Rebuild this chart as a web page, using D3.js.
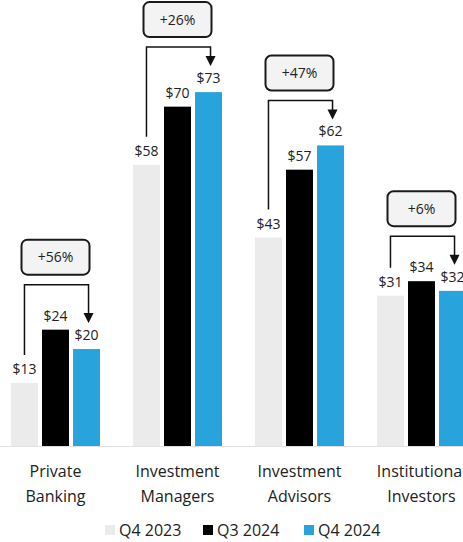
<!DOCTYPE html>
<html>
<head>
<meta charset="utf-8">
<script src="https://cdnjs.cloudflare.com/ajax/libs/d3/7.8.5/d3.min.js"></script>
<style>
  body { margin: 0; background: #fff; }
  svg { display: block; font-family: 'Open Sans', 'Noto Sans', sans-serif; }
</style>
</head>
<body>
<div id="chart"></div>
<script>
// data
var categories = [['Private', 'Banking'], ['Investment', 'Managers'], ['Investment', 'Advisors'], ['Institutional', 'Investors']]
var series = ['Q4 2023', 'Q3 2024', 'Q4 2024']
var q4_2023 = [13, 58, 43, 31]
var q3_2024 = [24, 70, 57, 34]
var q4_2024 = [20, 73, 62, 32]
var growth = ['+56%', '+26%', '+47%', '+6%']

var colors = ['#ebebeb', '#000000', '#29a3dc']

var width = 463
var height = 542
var baseline = 446

var svg = d3.select('#chart')
  .append('svg')
  .attr('width', width)
  .attr('height', height)

var keys = categories.map(d => d.join(' '))
var rows = keys.map((k, i) => ({ key: k, lines: categories[i], values: [q4_2023[i], q3_2024[i], q4_2024[i]] }))

var x0 = d3.scaleBand()
  .domain(keys)
  .range([-5.5, 482.5])
  .paddingInner(0.27)
  .paddingOuter(0.135)

var x1 = d3.scaleBand()
  .domain(series)
  .range([0, x0.bandwidth()])
  .paddingInner(0.13)

var y = d3.scaleLinear().domain([0, 92]).range([baseline, 0])

var color = d3.scaleOrdinal().domain(series).range(colors)

// baseline
svg.append('line')
  .attr('x1', 0).attr('x2', width)
  .attr('y1', baseline + 0.5).attr('y2', baseline + 0.5)
  .attr('stroke', '#e2e2e2')
  .attr('stroke-width', 1)

var groups = svg.selectAll('.group')
  .data(rows)
  .enter()
  .append('g')
  .attr('class', 'group')
  .attr('transform', d => `translate(${x0(d.key)},0)`)

groups.selectAll('rect')
  .data(d => d.values.map((v, i) => ({ s: series[i], v: v })))
  .enter()
  .append('rect')
  .attr('x', d => x1(d.s))
  .attr('y', d => y(d.v))
  .attr('width', x1.bandwidth())
  .attr('height', d => baseline - y(d.v))
  .attr('fill', d => color(d.s))

groups.selectAll('.val')
  .data(d => d.values.map((v, i) => ({ s: series[i], v: v })))
  .enter()
  .append('text')
  .attr('class', 'val')
  .attr('x', d => x1(d.s) + x1.bandwidth() / 2)
  .attr('y', d => y(d.v) - 9)
  .attr('text-anchor', 'middle')
  .attr('font-size', 14)
  .attr('fill', '#222')
  .text(d => '$' + d.v)

// category labels
groups.append('text')
  .attr('x', x0.bandwidth() / 2)
  .attr('y', 477)
  .attr('text-anchor', 'middle')
  .attr('font-size', 16)
  .attr('fill', '#222')
  .selectAll('tspan')
  .data(d => d.lines)
  .enter()
  .append('tspan')
  .attr('x', x0.bandwidth() / 2)
  .attr('dy', (d, i) => i === 0 ? 0 : 25)
  .text(d => d)

// growth annotations
groups.each(function(d, i) {
  var g = d3.select(this)
  var cx = x0.bandwidth() / 2
  var xa = x1(series[0]) + x1.bandwidth() / 2
  var xb = x1(series[2]) + x1.bandwidth() / 2 + 2
  var top = y(d3.max(d.values)) - 45
  var tip = y(d.values[2]) - 26

  g.append('path')
    .attr('d', `M${xa},${y(d.values[0]) - 28}V${top}H${xb}V${tip - 8}`)
    .attr('fill', 'none')
    .attr('stroke', '#111')
    .attr('stroke-width', 1.5)

  g.append('path')
    .attr('d', `M${xb - 5},${tip - 10}L${xb + 5},${tip - 10}L${xb},${tip}Z`)
    .attr('fill', '#111')

  g.append('rect')
    .attr('x', cx - 34)
    .attr('y', top - 45)
    .attr('width', 68)
    .attr('height', 35)
    .attr('rx', 6)
    .attr('fill', '#f3f3f3')
    .attr('stroke', '#1a1a1a')
    .attr('stroke-width', 2)

  g.append('text')
    .attr('x', cx)
    .attr('y', top - 22.5)
    .attr('text-anchor', 'middle')
    .attr('font-size', 14)
    .attr('fill', '#222')
    .text(growth[i])
})

// legend
var legendX = [105, 203, 304]
var legend = svg.selectAll('.legend')
  .data(series)
  .enter()
  .append('g')
  .attr('class', 'legend')
  .attr('transform', (d, i) => `translate(${legendX[i]},525)`)

legend.append('rect')
  .attr('width', 10)
  .attr('height', 10)
  .attr('fill', d => color(d))

legend.append('text')
  .attr('x', 14)
  .attr('y', 11)
  .attr('font-size', 16)
  .attr('fill', '#222')
  .text(d => d)
</script>
</body>
</html>
